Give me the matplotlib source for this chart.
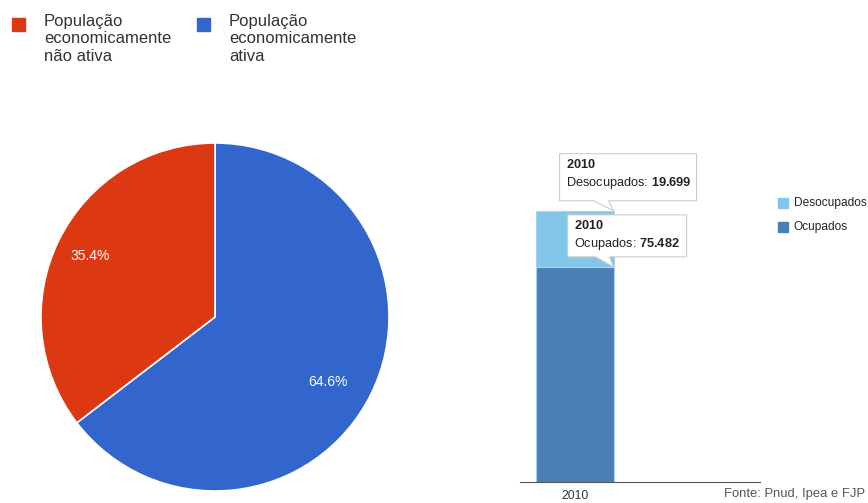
import matplotlib
matplotlib.use('Agg')
import matplotlib.pyplot as plt
from matplotlib.patches import Polygon, Rectangle

plt.rcParams['font.family'] = ['Liberation Sans', 'DejaVu Sans']
plt.rcParams['mathtext.fontset'] = 'custom'
plt.rcParams['mathtext.rm'] = 'Liberation Sans'
plt.rcParams['mathtext.bf'] = 'Liberation Sans:bold'

# pie data
pie_labels = ['População\neconomicamente\nnão ativa', 'População\neconomicamente\nativa']
pie_values = [35.4, 64.6]
pie_colors = ['#dc3912', '#3366cc']

# bar data
years = ['2010']
ocupados = [75.482]
desocupados = [19.699]
bar_colors = {'Ocupados': '#4a7eb5', 'Desocupados': '#84c6e7'}

W, H = 868, 503
fig = plt.figure(figsize=(W / 100, H / 100), dpi=100)


def fx(px):
    return px / W


def fy(py):
    return 1 - py / H


# ---- pie ----
ax1 = fig.add_axes([fx(41), fy(491), fx(348), 348 / H])
# blue starts at 12 o'clock going clockwise, red after it
wedges, texts = ax1.pie(pie_values[::-1], colors=pie_colors[::-1], startangle=90,
                        counterclock=False, wedgeprops=dict(edgecolor='white', linewidth=1.2))
ax1.set_aspect('equal')
ax1.set_xlim(-1, 1)
ax1.set_ylim(-1, 1)
ax1.text(-0.72, 0.35, f'{pie_values[0]:.1f}%', color='white', fontsize=10, ha='center', va='center')
ax1.text(0.65, -0.375, f'{pie_values[1]:.1f}%', color='white', fontsize=10, ha='center', va='center')

# pie legend
for i, (lab, col) in enumerate(zip(pie_labels, pie_colors)):
    x0 = [12, 197][i]
    fig.patches.append(Rectangle((fx(x0), fy(31)), fx(13), 13 / H, color=col,
                                 transform=fig.transFigure, figure=fig))
    fig.text(fx(x0 + 32), fy(14), lab, fontsize=12, color='#333333', va='top', ha='left',
             linespacing=1.2)

# ---- stacked bar ----
ax2 = fig.add_axes([fx(520), fy(482), fx(240), 332 / H])
xpos = list(range(len(years)))
ax2.bar(xpos, ocupados, width=1, color=bar_colors['Ocupados'], edgecolor='#a9d3ee', linewidth=0.8)
ax2.bar(xpos, desocupados, bottom=ocupados, width=1, color=bar_colors['Desocupados'],
        edgecolor='#a9d3ee', linewidth=0.8)
ax2.set_xlim(-0.714, 2.4)
ax2.set_ylim(0, 116.5)
for s in ['top', 'right', 'left']:
    ax2.spines[s].set_visible(False)
ax2.spines['bottom'].set_color('#555555')
ax2.set_yticks([])
ax2.set_xticks(xpos)
ax2.set_xticklabels(years, fontsize=8.8, color='#333333')
ax2.tick_params(axis='x', length=0, pad=6)


def tooltip(xd, yd, box, tail, lines):
    # box and tail are pixel offsets relative to the anchor point (x right, y down)
    ax_, ay_ = ax2.transData.transform((xd, yd))
    ax_px, ay_px = ax_, H - ay_
    l, t, r, b = box
    t1, t2 = tail
    pts = [(l, t), (r, t), (r, b), (t2, b), (0, 0), (t1, b), (l, b)]
    pts = [(fx(ax_px + px), fy(ay_px + py)) for px, py in pts]
    poly = Polygon(pts, closed=True, facecolor='white', edgecolor='#cccccc', linewidth=0.8,
                   transform=fig.transFigure, figure=fig, zorder=5)
    fig.patches.append(poly)
    for k, ln in enumerate(lines):
        fig.text(fx(ax_px + l + 6), fy(ay_px + t + 11 + 18 * k), ln, fontsize=9.2,
                 color='#222222', va='center', ha='left', zorder=6)


x_right = 0.5
tooltip(x_right, ocupados[0] + desocupados[0], (-54, -57, 83, -10), (-20, -5),
        [r'$\mathbf{' + years[0] + '}$',
         'Desocupados: ' + r'$\mathbf{' + f'{desocupados[0]:.3f}' + '}$'])
tooltip(x_right, ocupados[0], (-46, -52, 73, -10), (-18, -4),
        [r'$\mathbf{' + years[0] + '}$',
         'Ocupados: ' + r'$\mathbf{' + f'{ocupados[0]:.3f}' + '}$'])

# bar legend
for i, name in enumerate(['Desocupados', 'Ocupados']):
    yy = 203 + 24 * i
    fig.patches.append(Rectangle((fx(778), fy(yy + 5)), fx(10), 10 / H, color=bar_colors[name],
                                 transform=fig.transFigure, figure=fig))
    fig.text(fx(794), fy(yy), name, fontsize=8.6, color='#222222', va='center', ha='left')

fig.text(fx(865), fy(494), 'Fonte: Pnud, Ipea e FJP', fontsize=9.4, color='#555555',
         ha='right', va='center')

fig.savefig('out.png', dpi=100)
